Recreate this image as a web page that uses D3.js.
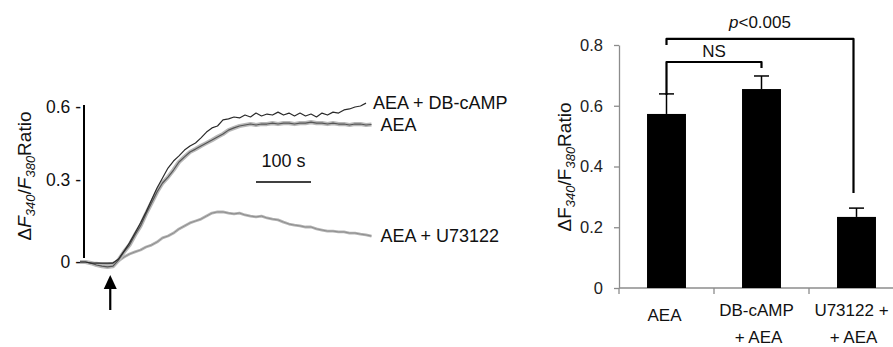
<!DOCTYPE html>
<html>
<head>
<meta charset="utf-8">
<script src="https://cdn.jsdelivr.net/npm/d3@7"></script>
<style>
  html, body { margin: 0; padding: 0; background: #fff; }
  svg { display: block; font-family: "Liberation Sans", Arial, sans-serif; }
</style>
</head>
<body>
<svg id="chart" width="893" height="347"></svg>
<script>
// ---------------- Data: left panel (time traces) ----------------
const timeSec = [0,10,20,30,40,50,60,70,80,90,100,110,120,130,140,150,160,170,180,190,
  200,210,220,230,240,250,260,270,280,290,300,310,320,330,340,350,360,370,380,390,
  400,410,420,430,440,450,460,470,480,490,500,510,520,530];

const traceAEA = [0,0,-0.004,-0.011,-0.015,-0.018,-0.015,0.007,0.037,0.062,
  0.099,0.132,0.176,0.216,0.256,0.289,0.312,0.341,0.374,0.395,
  0.415,0.427,0.440,0.452,0.464,0.477,0.489,0.505,0.514,0.522,
  0.526,0.530,0.526,0.530,0.530,0.534,0.530,0.534,0.534,0.530,
  0.534,0.534,0.538,0.534,0.534,0.530,0.534,0.530,0.530,0.526,
  0.530,0.530,0.526,0.528];

const traceDBcAMP = [0,0,-0.004,-0.004,-0.004,-0.004,-0.004,0.011,0.040,0.070,
  0.106,0.143,0.183,0.227,0.271,0.308,0.349,0.378,0.399,0.423,
  0.440,0.452,0.473,0.497,0.514,0.522,0.547,0.551,0.559,0.555,
  0.567,0.559,0.575,0.563,0.571,0.567,0.579,0.567,0.575,0.563,
  0.575,0.563,0.571,0.559,0.575,0.567,0.579,0.575,0.588,0.592,
  0.600,0.604,0.616];

const traceU73122 = [0,0,-0.004,-0.004,-0.007,-0.007,-0.004,0.004,0.018,0.029,
  0.037,0.044,0.055,0.062,0.073,0.088,0.095,0.106,0.121,0.132,
  0.143,0.150,0.157,0.168,0.179,0.183,0.183,0.179,0.176,0.179,
  0.172,0.168,0.165,0.168,0.161,0.157,0.154,0.146,0.139,0.135,
  0.132,0.128,0.128,0.121,0.117,0.113,0.113,0.110,0.110,0.106,
  0.106,0.102,0.099,0.095];

const traceLabels = ["AEA + DB-cAMP", "AEA", "AEA + U73122"];
const leftTickValues = [0, 0.3, 0.6];
const leftTickLabels = ["0 -", "0.3 -", "0.6 -"];
const stimulusTime = 55;          // arrow
const scaleBarStart = 320, scaleBarLength = 100; // "100 s"

// ---------------- Data: right panel (bar chart) ----------------
const categories = ["AEA", "DB-cAMP + AEA", "U73122 + + AEA"];
const categoryLines = [["AEA"], ["DB-cAMP", "+ AEA"], ["U73122 +", "+ AEA"]];
const meanValues = [0.573, 0.655, 0.234];
const errorValues = [0.066, 0.043, 0.029];
const rightTickValues = [0, 0.2, 0.4, 0.6, 0.8];
const rightTickLabels = ["0", "0.2", "0.4", "0.6", "0.8"];

const svg = d3.select("#chart");
const FONT = '"Liberation Sans", Arial, sans-serif';

// ================= LEFT PANEL =================
const xL = d3.scaleLinear().domain([0, 530]).range([80, 371.5]);
const yL = d3.scaleLinear().domain([0, 0.3, 0.6]).range([262, 180, 107]);

const left = svg.append("g");

// vertical scale line
left.append("line")
  .attr("x1", 84).attr("x2", 84)
  .attr("y1", yL(0.6) - 2).attr("y2", yL(0) - 4)
  .attr("stroke", "#000").attr("stroke-width", 2);

// tick labels
const axL = d3.axisLeft(yL).tickValues(leftTickValues).tickSize(0).tickPadding(0)
  .tickFormat((d, i) => leftTickLabels[i]);
const gAxL = left.append("g").attr("transform", "translate(81,0)").call(axL);
gAxL.select(".domain").remove();
gAxL.selectAll("text").attr("font-size", 17.5).attr("font-family", FONT).attr("fill", "#111");

const lineGen = d3.line().x(d => xL(d[0])).y(d => yL(d[1])).curve(d3.curveLinear);
const pts = arr => arr.map((v, i) => [timeSec[i], v]);

// U73122 trace (grey)
left.append("path").datum(pts(traceU73122)).attr("d", lineGen)
  .attr("fill", "none").attr("stroke", "#b4b4b4").attr("stroke-width", 2.8)
  .attr("stroke-linejoin", "round");
left.append("path").datum(pts(traceU73122)).attr("d", lineGen)
  .attr("fill", "none").attr("stroke", "#8a8a8a").attr("stroke-width", 0.9)
  .attr("stroke-linejoin", "round");

// AEA trace (thick grey with dark core)
left.append("path").datum(pts(traceAEA)).attr("d", lineGen)
  .attr("fill", "none").attr("stroke", "#b8b8b8").attr("stroke-width", 4.2)
  .attr("stroke-linejoin", "round");
left.append("path").datum(pts(traceAEA)).attr("d", lineGen)
  .attr("fill", "none").attr("stroke", "#555").attr("stroke-width", 1.2)
  .attr("stroke-linejoin", "round");

// AEA + DB-cAMP trace (thin dark)
left.append("path").datum(pts(traceDBcAMP)).attr("d", lineGen)
  .attr("fill", "none").attr("stroke", "#2a2a2a").attr("stroke-width", 1.2)
  .attr("stroke-linejoin", "round");

// trace labels
const traceEnds = [
  [xL(timeSec[traceDBcAMP.length - 1]) + 7, yL(traceDBcAMP[traceDBcAMP.length - 1])],
  [xL(timeSec[traceAEA.length - 1]) + 9, yL(traceAEA[traceAEA.length - 1])],
  [xL(timeSec[traceU73122.length - 1]) + 9, yL(traceU73122[traceU73122.length - 1])]
];
left.selectAll("text.tl").data(traceLabels).join("text").attr("class", "tl")
  .attr("x", (d, i) => traceEnds[i][0])
  .attr("y", (d, i) => traceEnds[i][1] + 6)
  .attr("font-size", 18).attr("font-family", FONT).attr("fill", "#111")
  .text(d => d);

// scale bar
left.append("line")
  .attr("x1", xL(scaleBarStart)).attr("x2", xL(scaleBarStart + scaleBarLength))
  .attr("y1", 182).attr("y2", 182)
  .attr("stroke", "#000").attr("stroke-width", 1.5);
left.append("text")
  .attr("x", (xL(scaleBarStart) + xL(scaleBarStart + scaleBarLength)) / 2)
  .attr("y", 167).attr("text-anchor", "middle")
  .attr("font-size", 18).attr("font-family", FONT).attr("fill", "#111")
  .text(scaleBarLength + " s");

// stimulus arrow
const ax = xL(stimulusTime);
left.append("line").attr("x1", ax).attr("x2", ax).attr("y1", 286).attr("y2", 310)
  .attr("stroke", "#000").attr("stroke-width", 2.2);
left.append("path")
  .attr("d", `M${ax},275 L${ax - 6.5},289 L${ax + 6.5},289 Z`)
  .attr("fill", "#000");

// y label helper
function yLabel(g, x, y, italicF) {
  const t = g.append("text")
    .attr("transform", `translate(${x},${y}) rotate(-90)`)
    .attr("text-anchor", "middle")
    .attr("font-size", 19).attr("font-family", FONT).attr("fill", "#111");
  t.append("tspan").text("\u0394");
  t.append("tspan").attr("font-style", italicF ? "italic" : "normal").text("F");
  t.append("tspan").attr("font-style", "italic").attr("font-size", 13).attr("dy", 4).text("340");
  t.append("tspan").attr("dy", -4).text("/");
  t.append("tspan").attr("font-style", italicF ? "italic" : "normal").text("F");
  t.append("tspan").attr("font-style", "italic").attr("font-size", 13).attr("dy", 4).text("380");
  t.append("tspan").attr("dy", -4).text("Ratio");
}
yLabel(left, 31, 176, true);

// ================= RIGHT PANEL =================
const right = svg.append("g");
const yR = d3.scaleLinear().domain([0, 0.8]).range([288, 45]);
const xR = d3.scaleBand().domain(categories).range([619, 904])
  .paddingInner(0.59).paddingOuter(0.295);

// y axis
const axR = d3.axisLeft(yR).tickValues(rightTickValues).tickSize(5).tickSizeOuter(0)
  .tickPadding(11).tickFormat((d, i) => rightTickLabels[i]);
const gAxR = right.append("g").attr("transform", "translate(619,0)").call(axR);
gAxR.select(".domain").attr("stroke", "#8c8c8c").attr("stroke-width", 1.3);
gAxR.selectAll(".tick line").attr("stroke", "#8c8c8c").attr("stroke-width", 1.3);
gAxR.selectAll("text").attr("font-size", 16.5).attr("font-family", FONT).attr("fill", "#222");

// x axis
right.append("line").attr("x1", 619).attr("x2", 893).attr("y1", yR(0)).attr("y2", yR(0))
  .attr("stroke", "#8c8c8c").attr("stroke-width", 1.3);
const boundaries = [619].concat(categories.map(c => xR(c) + xR.bandwidth() + xR.step() * xR.paddingInner() / 2));
right.selectAll("line.xt").data(boundaries).join("line").attr("class", "xt")
  .attr("x1", d => d).attr("x2", d => d)
  .attr("y1", yR(0)).attr("y2", yR(0) + 6)
  .attr("stroke", "#8c8c8c").attr("stroke-width", 1.3);

// bars
right.selectAll("rect.bar").data(meanValues).join("rect").attr("class", "bar")
  .attr("x", (d, i) => xR(categories[i]))
  .attr("width", xR.bandwidth())
  .attr("y", d => yR(d))
  .attr("height", d => yR(0) - yR(d))
  .attr("fill", "#000");

// error bars (upper only)
const cx = i => xR(categories[i]) + xR.bandwidth() / 2;
meanValues.forEach((m, i) => {
  right.append("line").attr("x1", cx(i)).attr("x2", cx(i))
    .attr("y1", yR(m)).attr("y2", yR(m + errorValues[i]))
    .attr("stroke", "#000").attr("stroke-width", 1.5);
  right.append("line").attr("x1", cx(i) - 7.5).attr("x2", cx(i) + 7.5)
    .attr("y1", yR(m + errorValues[i])).attr("y2", yR(m + errorValues[i]))
    .attr("stroke", "#000").attr("stroke-width", 1.5);
});

// category labels
const lineBaselines = { 1: [321], 2: [316, 343] };
categoryLines.forEach((lines, i) => {
  lines.forEach((s, j) => {
    right.append("text")
      .attr("x", cx(i) + (lines.length === 2 && j === 0 ? -5 : (lines.length === 2 ? -3 : -2)))
      .attr("y", lineBaselines[lines.length][j])
      .attr("text-anchor", "middle")
      .attr("font-size", 17).attr("font-family", FONT).attr("fill", "#111")
      .text(s);
  });
});

// significance brackets
const brackets = [
  { a: 0, b: 1, level: 0.744, dropA: 0.635, dropB: 0.724, text: "NS", italicP: false },
  { a: 0, b: 2, level: 0.820, dropA: 0.800, dropB: 0.313, text: "<0.005", italicP: true }
];
brackets.forEach(br => {
  const x1 = cx(br.a), x2 = cx(br.b) - (br.b === 2 ? 3 : 0);
  right.append("path")
    .attr("d", `M${x1},${yR(br.dropA)} L${x1},${yR(br.level)} L${x2},${yR(br.level)} L${x2},${yR(br.dropB)}`)
    .attr("fill", "none").attr("stroke", "#000").attr("stroke-width", 2.2)
    .attr("stroke-linejoin", "round");
  const t = right.append("text")
    .attr("x", (x1 + x2) / 2).attr("y", yR(br.level) - (br.italicP ? 11 : 5))
    .attr("text-anchor", "middle")
    .attr("font-size", 17).attr("font-family", FONT).attr("fill", "#111");
  if (br.italicP) t.append("tspan").attr("font-style", "italic").text("p");
  t.append("tspan").text(br.text);
});

yLabel(right, 571, 167, false);
</script>
</body>
</html>
